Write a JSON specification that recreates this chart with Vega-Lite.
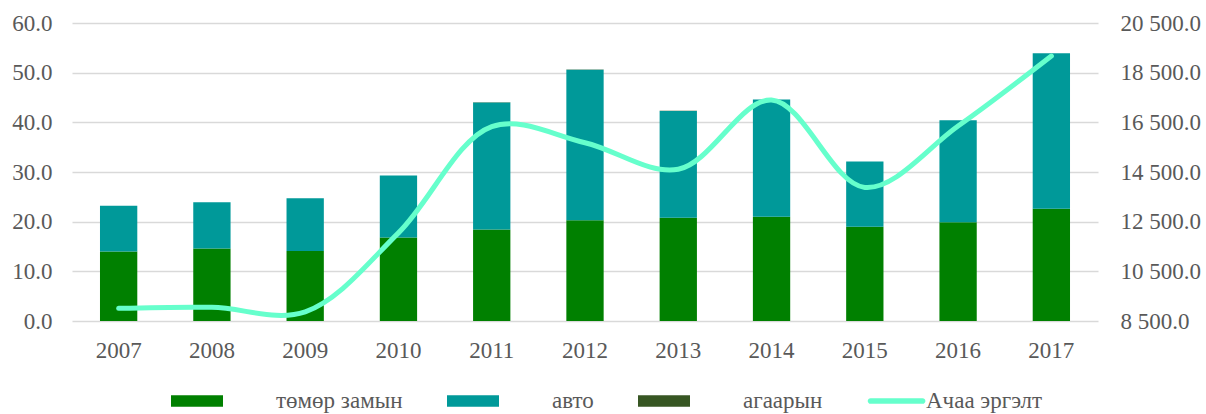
{
  "$schema": "https://vega.github.io/schema/vega-lite/v6.json",
  "width": 1026,
  "height": 298,
  "autosize": {"type": "none"},
  "padding": {"left": 72, "top": 23, "right": 108, "bottom": 93},
  "background": "white",
  "config": {
    "view": {"stroke": null},
    "font": "Liberation Serif, DejaVu Serif, serif",
    "axis": {
      "labelFont": "Liberation Serif, DejaVu Serif, serif",
      "labelFontSize": 23,
      "labelColor": "#595959",
      "ticks": false,
      "domain": false,
      "title": null
    }
  },
  "datasets": {
    "freight": [
      {"year": "2007", "type": "төмөр замын", "k": 1, "value": 14.0},
      {"year": "2007", "type": "авто", "k": 2, "value": 9.2},
      {"year": "2007", "type": "агаарын", "k": 3, "value": 0.02},
      {"year": "2008", "type": "төмөр замын", "k": 1, "value": 14.6},
      {"year": "2008", "type": "авто", "k": 2, "value": 9.3},
      {"year": "2008", "type": "агаарын", "k": 3, "value": 0.02},
      {"year": "2009", "type": "төмөр замын", "k": 1, "value": 14.1},
      {"year": "2009", "type": "авто", "k": 2, "value": 10.6},
      {"year": "2009", "type": "агаарын", "k": 3, "value": 0.02},
      {"year": "2010", "type": "төмөр замын", "k": 1, "value": 16.8},
      {"year": "2010", "type": "авто", "k": 2, "value": 12.5},
      {"year": "2010", "type": "агаарын", "k": 3, "value": 0.02},
      {"year": "2011", "type": "төмөр замын", "k": 1, "value": 18.4},
      {"year": "2011", "type": "авто", "k": 2, "value": 25.6},
      {"year": "2011", "type": "агаарын", "k": 3, "value": 0.02},
      {"year": "2012", "type": "төмөр замын", "k": 1, "value": 20.3},
      {"year": "2012", "type": "авто", "k": 2, "value": 30.3},
      {"year": "2012", "type": "агаарын", "k": 3, "value": 0.02},
      {"year": "2013", "type": "төмөр замын", "k": 1, "value": 20.8},
      {"year": "2013", "type": "авто", "k": 2, "value": 21.5},
      {"year": "2013", "type": "агаарын", "k": 3, "value": 0.02},
      {"year": "2014", "type": "төмөр замын", "k": 1, "value": 21.0},
      {"year": "2014", "type": "авто", "k": 2, "value": 23.6},
      {"year": "2014", "type": "агаарын", "k": 3, "value": 0.02},
      {"year": "2015", "type": "төмөр замын", "k": 1, "value": 19.0},
      {"year": "2015", "type": "авто", "k": 2, "value": 13.1},
      {"year": "2015", "type": "агаарын", "k": 3, "value": 0.02},
      {"year": "2016", "type": "төмөр замын", "k": 1, "value": 19.9},
      {"year": "2016", "type": "авто", "k": 2, "value": 20.5},
      {"year": "2016", "type": "агаарын", "k": 3, "value": 0.02},
      {"year": "2017", "type": "төмөр замын", "k": 1, "value": 22.6},
      {"year": "2017", "type": "авто", "k": 2, "value": 31.3},
      {"year": "2017", "type": "агаарын", "k": 3, "value": 0.02}
    ],
    "cargo": [
      {"year": "2007", "cargo": 9010},
      {"year": "2008", "cargo": 9050},
      {"year": "2009", "cargo": 8870},
      {"year": "2010", "cargo": 12050},
      {"year": "2011", "cargo": 16330},
      {"year": "2012", "cargo": 15680},
      {"year": "2013", "cargo": 14610},
      {"year": "2014", "cargo": 17400},
      {"year": "2015", "cargo": 13880},
      {"year": "2016", "cargo": 16350},
      {"year": "2017", "cargo": 19170}
    ]
  },
  "encoding": {
    "x": {
      "field": "year",
      "type": "nominal",
      "scale": {"paddingInner": 0.6, "paddingOuter": 0.3},
      "axis": {"labelAngle": 0, "labelPadding": 18, "labelBaseline": "top"}
    }
  },
  "layer": [
    {
      "data": {"name": "freight"},
      "mark": {"type": "bar"},
      "encoding": {
        "y": {
          "field": "value",
          "type": "quantitative",
          "stack": "zero",
          "scale": {"domain": [0, 60]},
          "axis": {
            "orient": "left",
            "values": [0, 10, 20, 30, 40, 50, 60],
            "format": ".1f",
            "grid": true,
            "gridColor": "#d9d9d9",
            "gridWidth": 1.3,
            "labelPadding": 20
          }
        },
        "color": {
          "field": "type",
          "type": "nominal",
          "scale": {
            "domain": ["төмөр замын", "авто", "агаарын", "Ачаа эргэлт"],
            "range": ["#008000", "#009999", "#375623", "#66FFCC"]
          },
          "legend": {
            "orient": "none",
            "legendX": 99,
            "legendY": 326,
            "direction": "horizontal",
            "title": null,
            "padding": 0,
            "symbolSize": 10816,
            "symbolStrokeWidth": 0,
            "symbolType": "M-1,-0.11H0V0.11H-1Z",
            "labelFont": "Liberation Serif, DejaVu Serif, serif",
            "labelFontSize": 23,
            "labelColor": "#595959",
            "labelOffset": 1,
            "labelLimit": 400,
            "columnPadding": 44,
            "encode": {
              "symbols": {
                "update": {
                  "shape": [
                    {"test": "datum.value === 'Ачаа эргэлт'", "value": "M-0.97,-0.055H0.03A0.055,0.055 0 0 1 0.03,0.055H-0.97A0.055,0.055 0 0 1 -0.97,-0.055Z"},
                    {"value": "M-1,-0.11H0V0.11H-1Z"}
                  ],
                  "fill": {"scale": "color", "field": "value"},
                  "fillOpacity": {"value": 1},
                  "opacity": {"value": 1},
                  "strokeWidth": {"value": 0}
                }
              },
              "labels": {
                "update": {
                  "dx": [
                    {"test": "datum.value === 'Ачаа эргэлт'", "value": -48},
                    {"value": 0}
                  ]
                }
              }
            }
          }
        },
        "order": {"field": "k", "type": "quantitative"}
      }
    },
    {
      "data": {"name": "cargo"},
      "mark": {"type": "line", "interpolate": "catmull-rom", "strokeWidth": 5, "strokeCap": "round"},
      "encoding": {
        "y": {
          "field": "cargo",
          "type": "quantitative",
          "scale": {"domain": [8500, 20500]},
          "axis": {
            "orient": "right",
            "values": [8500, 10500, 12500, 14500, 16500, 18500, 20500],
            "labelExpr": "replace(format(datum.value, ',.1f'), ',', ' ')",
            "grid": false,
            "labelPadding": 22
          }
        },
        "color": {"datum": "Ачаа эргэлт"}
      }
    }
  ],
  "resolve": {"scale": {"y": "independent"}}
}
